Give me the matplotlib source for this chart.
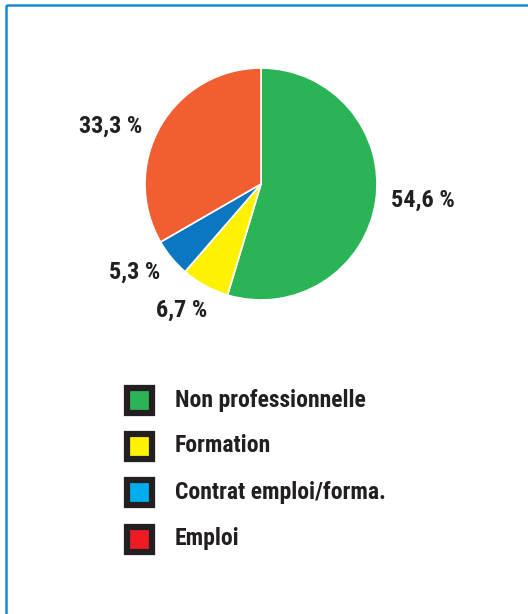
import matplotlib
matplotlib.use('Agg')
import matplotlib.pyplot as plt
from matplotlib.patches import Rectangle

plt.rcParams['font.family'] = ['Roboto Condensed', 'Liberation Sans Narrow', 'Roboto', 'DejaVu Sans']

# ==[0] Data
categories = ['Non professionnelle', 'Formation', 'Contrat emploi/forma.', 'Emploi']
shares = [54.6, 6.7, 5.3, 33.3]
share_labels = ['54,6 %', '6,7 %', '5,3 %', '33,3 %']
pie_colors = ['#2bb456', '#fff200', '#0b77c2', '#f15f31']
legend_colors = ['#2bb456', '#fff200', '#00aeef', '#ed1c24']

W, H = 528, 614
fig = plt.figure(figsize=(W / 100, H / 100), dpi=100)

# ==[1] Background axes in pixel coords (frame + legend)
bg = fig.add_axes([0, 0, 1, 1])
bg.set_xlim(0, W)
bg.set_ylim(H, 0)
bg.axis('off')
bg.add_patch(Rectangle((6, 5), W + 20, H + 20, fill=False, edgecolor='#1a88d6', lw=1.8))

# ==[2] Pie
cx, cy, r = 261, 184, 116
ax = fig.add_axes([(cx - r) / W, 1 - (cy + r) / H, 2 * r / W, 2 * r / H])
wedges, _ = ax.pie(shares, colors=pie_colors, startangle=90, counterclock=False,
                   wedgeprops=dict(edgecolor='white', linewidth=1.2))
ax.set_xlim(-1, 1)
ax.set_ylim(-1, 1)
ax.set_aspect('equal')

# label positions (pixels)
label_pos = [(423, 200), (182, 310), (135, 272), (111, 126)]
for txt, (px, py) in zip(share_labels, label_pos):
    bg.text(px, py, txt, ha='center', va='center', fontsize=17.5,
            fontweight='bold', color='#231f20')

# ==[3] Legend
rows = [400, 446, 492, 539]
for name, col, y in zip(categories, legend_colors, rows):
    bg.add_patch(Rectangle((127, y - 12.5), 25, 25, facecolor=col,
                           edgecolor='#231f20', lw=4.5, joinstyle='miter'))
    bg.text(175, y, name, ha='left', va='center', fontsize=17,
            fontweight='bold', color='#231f20')

fig.savefig('out.png', dpi=100)
